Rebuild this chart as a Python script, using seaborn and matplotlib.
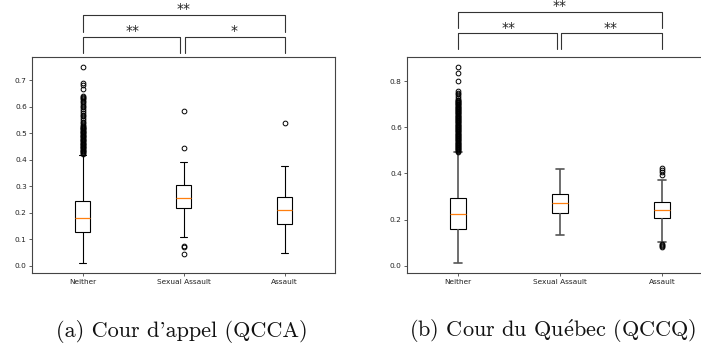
import matplotlib
matplotlib.use("Agg")
import matplotlib.pyplot as plt
from matplotlib.transforms import blended_transform_factory
import numpy as np
import pandas as pd
import seaborn as sns

# ---------------- data ----------------
categories = ["Neither", "Sexual Assault", "Assault"]

# box statistics: [whisker_low, q1, median, q3, whisker_high]
qcca_neither_box = [0.010, 0.126, 0.180, 0.244, 0.418]
qcca_sexual_box = [0.110, 0.217, 0.254, 0.305, 0.391]
qcca_assault_box = [0.050, 0.157, 0.211, 0.260, 0.378]

qcca_neither_out = [0.750, 0.690, 0.680, 0.667, 0.640, 0.636, 0.632, 0.627,
                    0.622, 0.616, 0.610, 0.604, 0.598, 0.591, 0.584, 0.577,
                    0.570, 0.563, 0.556, 0.549, 0.543, 0.537, 0.531, 0.527,
                    0.524, 0.521, 0.518, 0.515, 0.512, 0.509, 0.506, 0.503,
                    0.500, 0.497, 0.494, 0.491, 0.488, 0.485, 0.482, 0.479,
                    0.476, 0.473, 0.470, 0.467, 0.464, 0.461, 0.458, 0.455,
                    0.452, 0.449, 0.446, 0.443, 0.440, 0.437, 0.434, 0.431,
                    0.428, 0.425, 0.422]
qcca_sexual_out = [0.583, 0.445, 0.075, 0.070, 0.045]
qcca_assault_out = [0.537]

qccq_neither_box = [0.011, 0.161, 0.225, 0.294, 0.493]
qccq_sexual_box = [0.134, 0.230, 0.273, 0.312, 0.419]
qccq_assault_box = [0.103, 0.205, 0.241, 0.277, 0.373]

qccq_neither_out = [0.862, 0.836, 0.801, 0.758, 0.750, 0.745, 0.735, 0.725,
                    0.720, 0.717, 0.714, 0.711, 0.708, 0.705, 0.702, 0.699,
                    0.696, 0.693, 0.690, 0.687, 0.684, 0.681, 0.678, 0.675,
                    0.672, 0.669, 0.666, 0.663, 0.660, 0.657, 0.654, 0.651,
                    0.648, 0.645, 0.642, 0.639, 0.636, 0.633, 0.630, 0.627,
                    0.624, 0.621, 0.618, 0.615, 0.612, 0.609, 0.606, 0.603,
                    0.600, 0.597, 0.594, 0.591, 0.588, 0.585, 0.582, 0.579,
                    0.576, 0.573, 0.570, 0.567, 0.564, 0.561, 0.558, 0.555,
                    0.552, 0.549, 0.546, 0.543, 0.540, 0.537, 0.534, 0.531,
                    0.528, 0.525, 0.522, 0.519, 0.516, 0.513, 0.510, 0.507,
                    0.504, 0.501, 0.498, 0.495]
qccq_sexual_out = []
qccq_assault_out = [0.422, 0.415, 0.405, 0.392, 0.094, 0.089, 0.084, 0.080]

# significance stars: (Neither vs Sexual, Sexual vs Assault, Neither vs Assault)
qcca_stars = ["**", "*", "**"]
qccq_stars = ["**", "**", "**"]

qcca_yticks = [0.0, 0.1, 0.2, 0.3, 0.4, 0.5, 0.6, 0.7]
qcca_yticklabels = ["0.0", "0.1", "0.2", "0.3", "0.4", "0.5", "0.6", "0.7"]
qccq_yticks = [0.0, 0.2, 0.4, 0.6, 0.8]
qccq_yticklabels = ["0.0", "0.2", "0.4", "0.6", "0.8"]

caption_a = "(a) Cour d'appel (QCCA)"
caption_b = r"(b) Cour du Qu$\acute{\mathrm{e}}$bec (QCCQ)"


# -------- rebuild samples that reproduce the box statistics --------
def sample_from_stats(box, outliers):
    lo, q1, med, q3, hi = box
    m = 2 * (len(outliers) + 2)
    return [lo] + [q1] * m + [med] * m + [q3] * m + [hi] + list(outliers)


def frame(boxes, outs):
    rows = []
    for cat, b, o in zip(categories, boxes, outs):
        for v in sample_from_stats(b, o):
            rows.append((cat, v))
    return pd.DataFrame(rows, columns=["category", "value"])


df_a = frame([qcca_neither_box, qcca_sexual_box, qcca_assault_box],
             [qcca_neither_out, qcca_sexual_out, qcca_assault_out])
df_b = frame([qccq_neither_box, qccq_sexual_box, qccq_assault_box],
             [qccq_neither_out, qccq_sexual_out, qccq_assault_out])

# ---------------- styling ----------------
sns.set_style("ticks")
plt.rcParams.update({
    "font.family": ["DejaVu Sans"],
    "mathtext.fontset": "cm",
    "axes.edgecolor": "#444444",
    "axes.linewidth": 0.8,
    "xtick.color": "#444444",
    "ytick.color": "#444444",
    "xtick.labelcolor": "#222222",
    "ytick.labelcolor": "#222222",
    "xtick.major.size": 2.2,
    "ytick.major.size": 2.2,
    "xtick.major.width": 0.6,
    "ytick.major.width": 0.6,
    "xtick.major.pad": 2.0,
    "ytick.major.pad": 1.5,
    "xtick.labelsize": 5.3,
    "ytick.labelsize": 5.3,
})

W, H = 701, 347
fig = plt.figure(figsize=(W / 100, H / 100), dpi=100)
ax_a = fig.add_axes([32 / W, (H - 273) / H, 303 / W, 216 / H])
ax_b = fig.add_axes([407 / W, (H - 273) / H, 306 / W, 216 / H])

base_kws = dict(
    order=categories, width=0.15, color="white", linecolor="black",
    linewidth=0.8, saturation=1,
    medianprops=dict(color="#ff7f0e", linewidth=0.9),
    flierprops=dict(marker="o", markersize=3.4, markerfacecolor="none",
                    markeredgecolor="black", markeredgewidth=0.7),
)

sns.boxplot(data=df_a, x="category", y="value", ax=ax_a, **base_kws)
sns.boxplot(data=df_b, x="category", y="value", ax=ax_b,
            whiskerprops=dict(color="#555555", linewidth=1.2),
            capprops=dict(color="#555555", linewidth=1.2),
            **base_kws)

for ax, yt, ytl in [(ax_a, qcca_yticks, qcca_yticklabels),
                    (ax_b, qccq_yticks, qccq_yticklabels)]:
    ax.set_xlim(-0.5, 2.5)
    ax.set_xlabel("")
    ax.set_ylabel("")
    ax.set_yticks(yt)
    ax.set_yticklabels(ytl)
    for s in ax.spines.values():
        s.set_visible(True)


def brackets(ax, stars, low_leg, low_bar, top_leg, top_bar, low_txt, top_txt):
    tr = blended_transform_factory(ax.transData, fig.transFigure)
    fy = lambda p: 1 - p / H
    kw = dict(color="#333333", lw=0.8, transform=tr, clip_on=False)
    # Neither vs Sexual Assault
    ax.plot([0, 0, 0.97, 0.97], [fy(low_leg), fy(low_bar), fy(low_bar), fy(low_leg)], **kw)
    # Sexual Assault vs Assault
    ax.plot([1.01, 1.01, 2, 2], [fy(low_leg), fy(low_bar), fy(low_bar), fy(low_leg)], **kw)
    # Neither vs Assault
    ax.plot([0, 0, 2, 2], [fy(top_leg), fy(top_bar), fy(top_bar), fy(top_leg)], **kw)
    tkw = dict(transform=tr, ha="center", va="center", fontsize=10, color="#222222")
    ax.text(0.5, fy(low_txt), stars[0], **tkw)
    ax.text(1.5, fy(low_txt), stars[1], **tkw)
    ax.text(1.0, fy(top_txt), stars[2], **tkw)


brackets(ax_a, qcca_stars, 53, 37, 32, 15, 31, 9)
brackets(ax_b, qccq_stars, 49, 33, 28, 12, 28, 6)

cap_kw = dict(ha="center", va="baseline", fontsize=16,
              family=["cmr10", "DejaVu Serif"], color="#111111")
fig.text(182 / W, 1 - 337 / H, caption_a, **cap_kw)
fig.text(553 / W, 1 - 337 / H, caption_b, **cap_kw)

fig.savefig("out.png", dpi=100)
